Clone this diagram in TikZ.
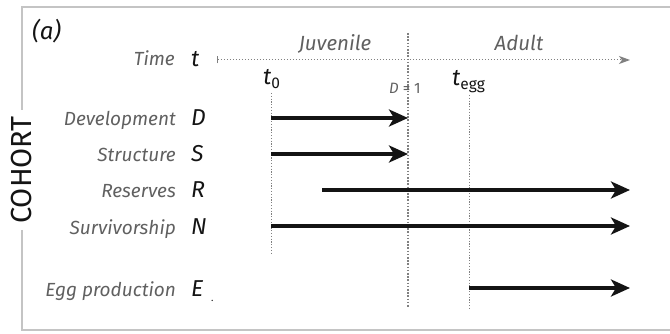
\documentclass[tikz,border=0pt]{standalone}
\usepackage{fontspec}
\setmainfont{Fira Sans}
\usetikzlibrary{arrows.meta}
\definecolor{lblgray}{HTML}{606060}
\definecolor{framegray}{HTML}{C4C4C4}
\definecolor{guidegray}{HTML}{808080}
\definecolor{ink}{HTML}{141414}
\begin{document}
\begin{tikzpicture}[x=1pt,y=-1pt,
  lab/.style={anchor=base east, text=lblgray, inner sep=0pt, font=\fontsize{19}{21}\selectfont\itshape},
  var/.style={anchor=base west, text=ink, inner sep=0pt, font=\fontsize{23}{25}\selectfont\itshape},
  phase/.style={anchor=base, text=lblgray, inner sep=0pt, font=\fontsize{20.5}{22}\selectfont\itshape},
  flow/.style={ink, line width=4pt, -{Stealth[length=19pt,width=17pt,inset=5pt]}},
  framepen/.style={framegray, line width=1.5pt},
  stagepen/.style={guidegray, line width=1.6pt, dash pattern=on 1.6pt off 1.6pt},
  guidepen/.style={guidegray, line width=0.8pt, dash pattern=on 1.2pt off 1.6pt},
  timepen/.style={guidegray, line width=1pt, dash pattern=on 1.5pt off 1.5pt,
    {Bar[width=7pt,line width=1pt]}-{Stealth[length=11pt,width=8pt,inset=3pt]}}
]
\useasboundingbox (0,0) rectangle (670,334);

% frame with COHORT
\node[rotate=90, inner xsep=6pt, inner ysep=0pt, text=ink,
      font=\fontsize{29}{31}\selectfont] (cohort) at (22,170) {COHORT};
\coordinate (ftr) at (670,7);
\coordinate (ftl) at (22,7);
\coordinate (fbl) at (22,330);
\coordinate (fbr) at (670,330);
\draw[framepen] (ftr) -- (ftl) -- (cohort.east);
\draw[framepen] (cohort.west) -- (fbl) -- (fbr);

% panel label
\node[anchor=base west, inner sep=0pt, text=ink, font=\fontsize{24}{26}\selectfont\itshape] (panel) at (32,40) {(a)};

% time axis
\node[lab] (ltime) at (175,66) {Time};
\node[var] (vtime) at (191,67) {t};
\coordinate (tstart) at (217,60);
\coordinate (tend) at (630,60);
\draw[timepen] (tstart) -- (tend);
\node[phase] (juv) at (335,51) {Juvenile};
\node[phase] (adult) at (519,51) {Adult};

% stage boundary
\coordinate (stop) at (408,33);
\coordinate (sbot) at (408,307);
\draw[stagepen] (stop) -- (sbot);
\node[anchor=base west, inner sep=0pt, text=lblgray, font=\fontsize{15}{17}\selectfont] (d1) at (389,94) {\textit{D} = 1};

% t0 and tegg
\node[var] (t0) at (263,85) {\textit{t}\textsubscript{\upshape\fontsize{15.5}{16}\selectfont 0}};
\node[var] (tegg) at (452,86) {\textit{t}\textsubscript{\upshape\fontsize{15.5}{16}\selectfont egg}};
\coordinate (gtop0) at (271,93);
\coordinate (gbot0) at (271,255);
\coordinate (gtopE) at (469,95);
\coordinate (gbotE) at (469,310);
\draw[guidepen] (gtop0) -- (gbot0);
\draw[guidepen] (gtopE) -- (gbotE);

% rows
\node[lab] (ldev) at (176,126) {Development};
\node[var] (vdev) at (191,126) {D};
\node[lab] (lstr) at (176,162) {Structure};
\node[var] (vstr) at (191,162) {S};
\node[lab] (lres) at (176,198) {Reserves};
\node[var] (vres) at (191,198) {R};
\node[lab] (lsur) at (176,234) {Survivorship};
\node[var] (vsur) at (191,234) {N};
\node[lab] (legg) at (176,296) {Egg production};
\node[var] (vegg) at (191,296) {E};
\node[anchor=base west, inner sep=0pt, text=ink, font=\fontsize{10}{11}\selectfont] (dot) at (211,301) {.};

% flows
\coordinate (dS) at (271,118); \coordinate (dE) at (408,118);
\coordinate (sS) at (271,154); \coordinate (sE) at (408,154);
\coordinate (rS) at (322,190); \coordinate (rE) at (630,190);
\coordinate (nS) at (271,226); \coordinate (nE) at (630,226);
\coordinate (eS) at (469,288); \coordinate (eE) at (630,288);
\draw[flow] (dS) -- (dE);
\draw[flow] (sS) -- (sE);
\draw[flow] (rS) -- (rE);
\draw[flow] (nS) -- (nE);
\draw[flow] (eS) -- (eE);
\end{tikzpicture}
\end{document}
